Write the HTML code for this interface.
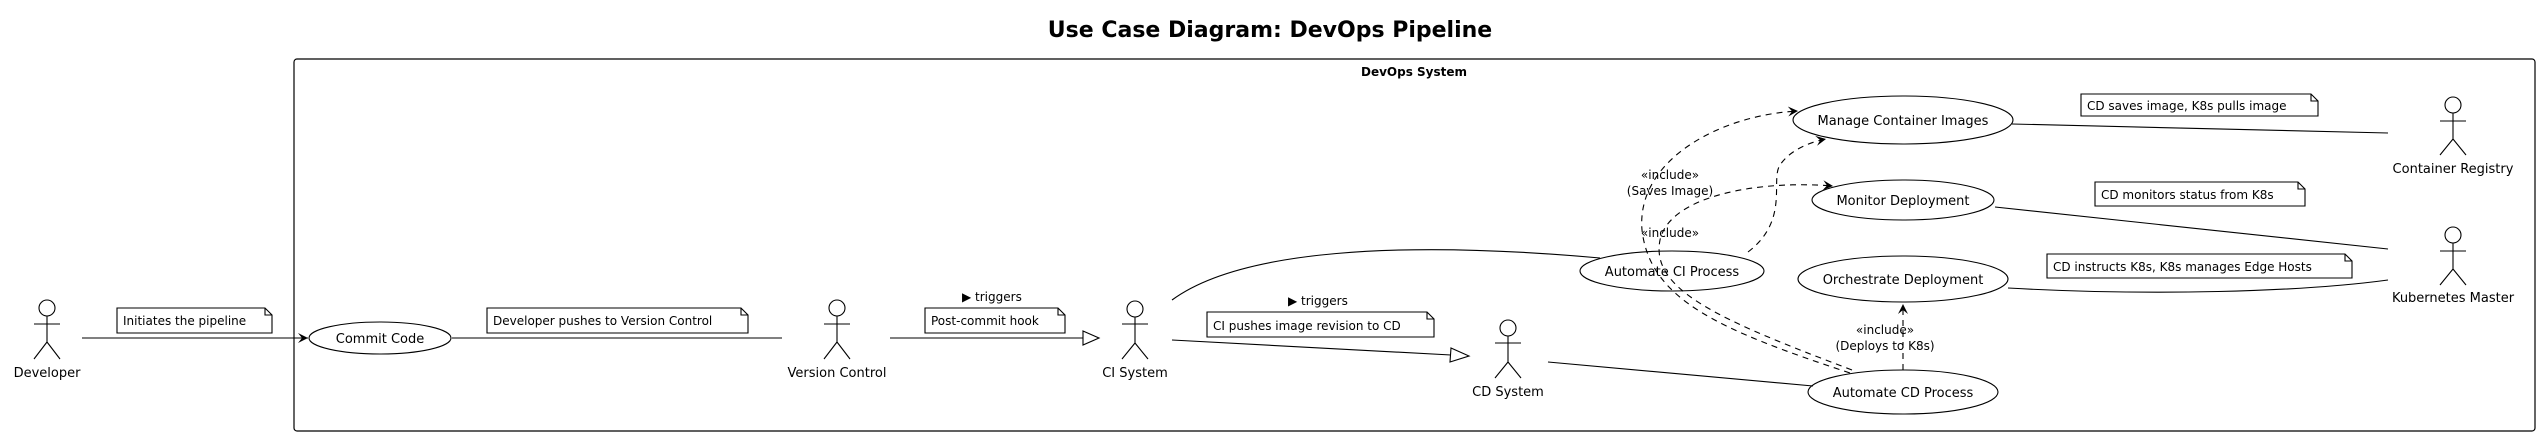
<!DOCTYPE html>
<html><head><meta charset="utf-8"><style>
html,body{margin:0;padding:0;background:#fff}
svg{display:block}
text{font-family:"DejaVu Sans","Liberation Sans",sans-serif;font-size:13px;fill:#000}
</style></head><body>
<svg width="2540" height="435" viewBox="0 0 2540 435" xmlns="http://www.w3.org/2000/svg">
<defs>
<marker id="open" markerWidth="12" markerHeight="12" refX="10" refY="6" orient="auto" markerUnits="userSpaceOnUse">
<path d="M0,1 L10,6 L0,11 L4,6 Z" fill="#000"/>
</marker>
</defs>
<text x="1270" y="37" text-anchor="middle" style="font-size:22px;font-weight:bold">Use Case Diagram: DevOps Pipeline</text>
<rect x="294" y="59" width="2241" height="372" rx="3" fill="none" stroke="#000" stroke-width="1.2"/>
<text x="1414" y="76" text-anchor="middle" style="font-weight:bold;font-size:12px">DevOps System</text>

<g fill="none" stroke="#000" stroke-width="1.1">
<!-- actors -->
<g id="a1"><circle cx="47" cy="308" r="8"/><path d="M47,316V342M34,324H60M47,342L34,359M47,342L60,359"/></g>
<circle cx="837" cy="308" r="8"/><path d="M837,316V342M824,324H850M837,342L824,359M837,342L850,359"/>
<circle cx="1135" cy="309" r="8"/><path d="M1135,317V343M1122,324H1148M1135,343L1122,359M1135,343L1148,359"/>
<circle cx="1508" cy="328" r="8"/><path d="M1508,336V362M1495,343H1521M1508,362L1495,378M1508,362L1521,378"/>
<circle cx="2453" cy="105" r="8"/><path d="M2453,113V139M2440,121H2466M2453,139L2440,155M2453,139L2466,155"/>
<circle cx="2453" cy="235" r="8"/><path d="M2453,243V269M2440,251H2466M2453,269L2440,285M2453,269L2466,285"/>

<!-- use cases -->
<ellipse cx="380" cy="338" rx="71" ry="16"/>
<ellipse cx="1672" cy="271" rx="92" ry="20"/>
<ellipse cx="1903" cy="392" rx="95" ry="22"/>
<ellipse cx="1903" cy="279" rx="105" ry="23"/>
<ellipse cx="1903" cy="200" rx="91" ry="20"/>
<ellipse cx="1903" cy="120" rx="110" ry="24"/>

<!-- solid lines -->
<path d="M82,338H308" marker-end="url(#open)"/>
<path d="M452,338H782"/>
<path d="M890,338H1083"/>
<path d="M1083,331L1099,338L1083,345Z" fill="#fff"/>
<path d="M1172,340L1451,355"/>
<path d="M1451,348L1469,356L1450,362Z" fill="#fff"/>
<path d="M1172,300C1240,250 1400,240 1600,258"/>
<path d="M1548,362L1813,386"/>
<path d="M2012,124L2388,133"/>
<path d="M1995,207L2388,249"/>
<path d="M2008,288C2150,296 2300,292 2388,280"/>

<!-- dashed -->
<g stroke-dasharray="6,5">
<path d="M1850,373C1720,330 1650,300 1642,230C1636,160 1720,115 1798,111" marker-end="url(#open)"/>
<path d="M1852,370C1720,320 1650,290 1660,240C1670,195 1760,180 1833,186" marker-end="url(#open)"/>
<path d="M1748,252C1790,220 1770,180 1780,165C1790,150 1810,142 1826,139" marker-end="url(#open)"/>
<path d="M1903,370V304" marker-end="url(#open)"/>
</g>

<!-- notes -->
<path d="M117,308H265L272,315V333H117Z M265,308V315H272"/>
<path d="M487,308H741L748,315V333H487Z M741,308V315H748"/>
<path d="M925,308H1058L1065,315V333H925Z M1058,308V315H1065"/>
<path d="M1207,312H1427L1434,319V337H1207Z M1427,312V319H1434"/>
<path d="M2081,94H2311L2318,101V116H2081Z M2311,94V101H2318"/>
<path d="M2095,182H2298L2305,189V206H2095Z M2298,182V189H2305"/>
<path d="M2047,254H2345L2352,261V278H2047Z M2345,254V261H2352"/>
</g>

<!-- labels -->
<text x="47" y="377" text-anchor="middle">Developer</text>
<text x="837" y="377" text-anchor="middle">Version Control</text>
<text x="1135" y="377" text-anchor="middle">CI System</text>
<text x="1508" y="396" text-anchor="middle">CD System</text>
<text x="2453" y="173" text-anchor="middle">Container Registry</text>
<text x="2453" y="302" text-anchor="middle">Kubernetes Master</text>

<text x="380" y="343" text-anchor="middle">Commit Code</text>
<text x="1672" y="276" text-anchor="middle">Automate CI Process</text>
<text x="1903" y="397" text-anchor="middle">Automate CD Process</text>
<text x="1903" y="284" text-anchor="middle">Orchestrate Deployment</text>
<text x="1903" y="205" text-anchor="middle">Monitor Deployment</text>
<text x="1903" y="125" text-anchor="middle">Manage Container Images</text>

<g style="font-size:12px">
<text x="123" y="325" style="font-size:12px">Initiates the pipeline</text>
<text x="493" y="325" style="font-size:12px">Developer pushes to Version Control</text>
<text x="931" y="325" style="font-size:12px">Post-commit hook</text>
<text x="1213" y="330" style="font-size:12px">CI pushes image revision to CD</text>
<text x="2087" y="110" style="font-size:12px">CD saves image, K8s pulls image</text>
<text x="2101" y="199" style="font-size:12px">CD monitors status from K8s</text>
<text x="2053" y="271" style="font-size:12px">CD instructs K8s, K8s manages Edge Hosts</text>
<text x="962" y="301" style="font-size:12px">▶ triggers</text>
<text x="1288" y="305" style="font-size:12px">▶ triggers</text>
<text x="1670" y="179" text-anchor="middle" style="font-size:12px">«include»</text>
<text x="1670" y="195" text-anchor="middle" style="font-size:12px">(Saves Image)</text>
<text x="1670" y="237" text-anchor="middle" style="font-size:12px">«include»</text>
<text x="1885" y="334" text-anchor="middle" style="font-size:12px">«include»</text>
<text x="1885" y="350" text-anchor="middle" style="font-size:12px">(Deploys to K8s)</text>
</g>
</svg>
</body></html>
